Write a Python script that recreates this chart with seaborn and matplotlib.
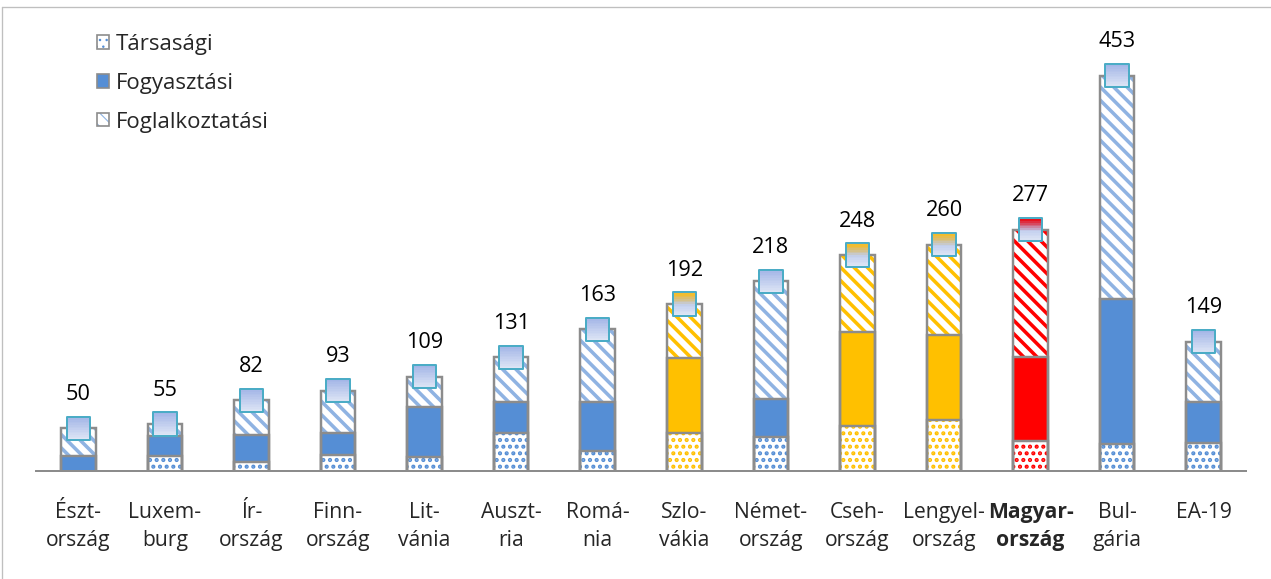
import numpy as np
import matplotlib
matplotlib.use("Agg")
import matplotlib.pyplot as plt
import seaborn as sns
from matplotlib.patches import Patch
from matplotlib.path import Path
from matplotlib.lines import Line2D
from matplotlib.legend_handler import HandlerTuple

# ---------------- data ----------------
countries = ["Észt-\nország", "Luxem-\nburg", "Ír-\nország", "Finn-\nország", "Lit-\nvánia",
             "Auszt-\nria", "Romá-\nnia", "Szlo-\nvákia", "Német-\nország", "Cseh-\nország",
             "Lengyel-\nország", "Magyar-\nország", "Bul-\ngária", "EA-19"]
tarsasagi = [0, 18, 12, 20, 17, 45, 24, 45, 40, 53, 59, 35, 32, 33]
fogyasztasi = [18, 23, 30, 25, 57, 35, 56, 85, 44, 107, 98, 96, 166, 47]
foglalkoztatasi = [32, 14, 40, 48, 35, 51, 83, 62, 134, 88, 103, 146, 255, 69]
# colour family of each bar
groups = ["kek"] * 7 + ["narancs", "kek", "narancs", "narancs", "piros", "kek", "kek"]
legend_labels = ["Társasági", "Fogyasztási", "Foglalkoztatási"]

totals = [a + b + c for a, b, c in zip(tarsasagi, fogyasztasi, foglalkoztatasi)]
low_mid = [a + b for a, b in zip(tarsasagi, fogyasztasi)]

# ---------------- style ----------------
solid = {"kek": "#558ed5", "narancs": "#ffc000", "piros": "#ff0000"}
stripe = {"kek": "#8fb3e2", "narancs": "#ffc000", "piros": "#ff0000"}
dots = {"kek": "#558ed5", "narancs": "#ffc000", "piros": "#ff0000"}
outline = "#8c8c8c"

sns.set_style("white")
plt.rcParams["font.family"] = ["Open Sans", "DejaVu Sans"]

DPI = 80
fig = plt.figure(figsize=(1271 / DPI, 579 / DPI), dpi=DPI)
ax = fig.add_axes([35 / 1271, 1 - 472 / 579, 1212 / 1271, 437.5 / 579])


def layer(heights, faces, edges, hatch, hatch_lw, lw):
    n0 = len(ax.patches)
    with plt.rc_context({"hatch.linewidth": hatch_lw}):
        sns.barplot(x=countries, y=heights, color="white", saturation=1, width=0.4,
                    errorbar=None, ax=ax)
    for p, g in zip(ax.patches[n0:], groups):
        p.set_facecolor(faces[g] if isinstance(faces, dict) else faces)
        p.set_edgecolor(edges[g] if isinstance(edges, dict) else edges)
        p.set_linewidth(lw)
        if hatch:
            p.set_hatch(hatch)
            if hasattr(p, "set_hatch_linewidth"):
                p.set_hatch_linewidth(hatch_lw)


# stacked bars drawn as overlapping cumulative layers
layer(totals, "white", stripe, "\\\\", 3.2, 0)
layer(low_mid, solid, solid, None, 1, 0)
layer(tarsasagi, "white", dots, "..", 2.5, 0)
# outlines
for h in (totals, low_mid, tarsasagi):
    layer(h, "none", outline, None, 1, 2.2)

# total markers (square with vertical gradient)
x_pos = np.arange(len(countries))
msize = 21
top_blue = np.array(matplotlib.colors.to_rgb("#a1b4e6"))
bot_blue = np.array(matplotlib.colors.to_rgb("#e0e7f6"))
accent = {"narancs": np.array(matplotlib.colors.to_rgb("#f2bd2e")),
          "piros": np.array(matplotlib.colors.to_rgb("#e8101c"))}


def grad(g, t):
    c = bot_blue + (top_blue - bot_blue) * t
    if g in accent and t > 0.45:
        w = min(1.0, (t - 0.45) / 0.45)
        c = c + (accent[g] - c) * w
    return c


n_strips = 14
cuts = np.linspace(-1, 1, n_strips + 1)
for i in range(n_strips):
    y0, y1 = cuts[i], cuts[i + 1]
    path = Path([(-1, y0), (1, y0), (1, y1), (-1, y1), (-1, y0)],
                [Path.MOVETO, Path.LINETO, Path.LINETO, Path.LINETO, Path.CLOSEPOLY])
    t = (i + 0.5) / n_strips
    ax.scatter(x_pos, totals, marker=path, s=msize ** 2, c=[grad(g, t) for g in groups],
               linewidths=0, zorder=6)
ax.scatter(x_pos, totals, marker="s", s=msize ** 2, facecolors="none",
           edgecolors="#4bacc6", linewidths=1.8, zorder=7)

# total labels
for x, t in zip(x_pos, totals):
    ax.annotate(str(t), (x, t), xytext=(0, 25.5), textcoords="offset points",
                ha="center", va="baseline", fontsize=19.5, color="black")

# baseline
ax.axhline(0, color=outline, lw=4.5, zorder=5)

# axes
ax.set_xlim(-0.5, len(countries) - 0.5)
ax.set_ylim(0, 500)
ax.set_yticks([])
ax.set_xticks(x_pos)
ax.set_xticklabels(countries, fontsize=19, linespacing=1.45)
ax.tick_params(axis="x", length=0, pad=27)
ax.get_xticklabels()[11].set_fontweight("bold")
ax.set_xlabel("")
ax.set_ylabel("")
sns.despine(ax=ax, left=True, bottom=True)

# legend
with plt.rc_context({"hatch.linewidth": 2.2}):
    h1 = (Patch(facecolor="white", edgecolor=dots["kek"], hatch="..", lw=0),
          Patch(facecolor="none", edgecolor=outline, lw=1.5))
with plt.rc_context({"hatch.linewidth": 2.5}):
    h3 = (Patch(facecolor="white", edgecolor=stripe["kek"], hatch="\\\\", lw=0),
          Patch(facecolor="none", edgecolor=outline, lw=1.5))
h2 = (Patch(facecolor=solid["kek"], edgecolor=outline, lw=1.5),)
ax.legend([h1, h2, h3], legend_labels, handler_map={tuple: HandlerTuple(ndivide=1)},
          loc="upper left", bbox_to_anchor=(97 / 1271, 1 - 34 / 579),
          bbox_transform=fig.transFigure, frameon=False, fontsize=20,
          handlelength=0.55, handleheight=0.55, handletextpad=0.3,
          labelspacing=0.8, borderpad=0, borderaxespad=0)

# outer frame (top and left edges)
fig.add_artist(Line2D([2 / 1271, 1], [1 - 7 / 579, 1 - 7 / 579], transform=fig.transFigure,
                      color="#bfbfbf", lw=1.2))
fig.add_artist(Line2D([2 / 1271, 2 / 1271], [0, 1 - 7 / 579], transform=fig.transFigure,
                      color="#bfbfbf", lw=1.2))

fig.savefig("out.png", dpi=DPI)
